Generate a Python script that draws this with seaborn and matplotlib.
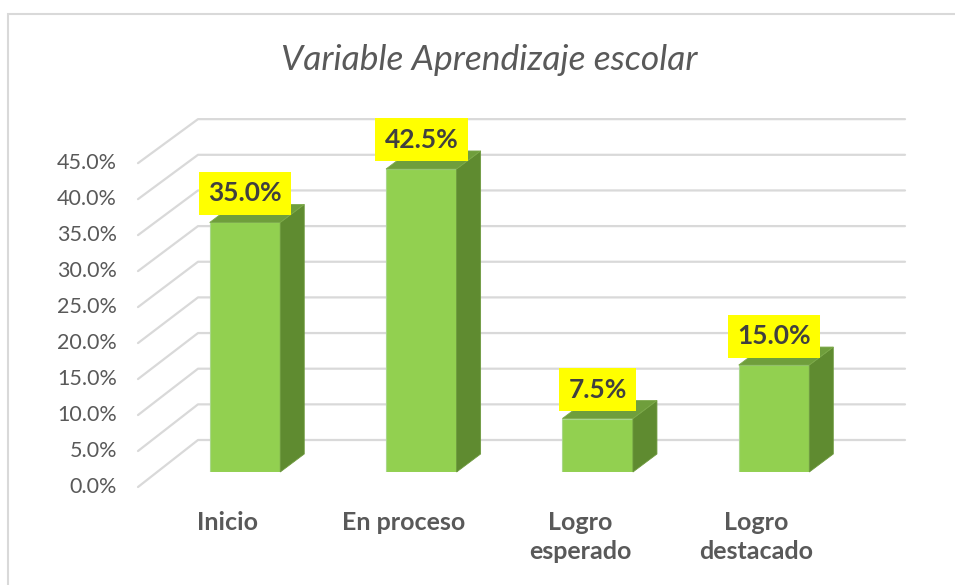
import matplotlib
matplotlib.use("Agg")
import matplotlib.pyplot as plt
import seaborn as sns
import pandas as pd
from matplotlib.patches import Polygon, Rectangle
from matplotlib.lines import Line2D
from matplotlib.transforms import IdentityTransform

# data
categorias = ["Inicio", "En proceso", "Logro\nesperado", "Logro\ndestacado"]
porcentajes = [35.0, 42.5, 7.5, 15.0]
ticks = [0, 5, 10, 15, 20, 25, 30, 35, 40, 45]
titulo = "Variable Aprendizaje escolar"

sns.set_theme(style="white")
plt.rcParams["font.family"] = ["Lato", "DejaVu Sans"]

W, H = 955, 585
fig = plt.figure(figsize=(W / 100, H / 100), dpi=100)
fig.patch.set_facecolor("white")

# front plane of the bars
ax = fig.add_axes([156.8 / W, 1 - 472 / H, 705.4 / W, 320.85 / H])
df = pd.DataFrame({"cat": categorias, "pct": porcentajes})
sns.barplot(data=df, x="cat", y="pct", color="#92D050", saturation=1,
            width=0.4, edgecolor="#A9D78A", linewidth=0.8, ax=ax, zorder=2)
ax.set_xlim(-0.5, 3.5)
ax.set_ylim(0, 45)
ax.set_xticks([])
ax.set_yticks([])
ax.set_xlabel("")
ax.set_ylabel("")
for s in ax.spines.values():
    s.set_visible(False)
ax.patch.set_alpha(0)

ident = IdentityTransform()
grid_c = "#D9D9D9"

# 3d-looking gridlines (left wall diagonal + back wall)
for v in ticks:
    yb = ax.transData.transform((0, v))[1]
    y_front = yb - (15 - 3 * v / 45)
    y_back = yb + 32
    ax.add_artist(Line2D([138, 198, 905], [y_front, y_back, y_back],
                         transform=ident, color=grid_c, lw=1.6,
                         clip_on=False, zorder=0.5))
    ax.text(117, y_front, f"{v:.1f}%", transform=ident, ha="right",
            va="center", fontsize=15.5, color="#595959")

# side and top faces of each bar
dx, dy = 24, 18
for p in ax.patches[:len(porcentajes)]:
    x0, y0 = ax.transData.transform((p.get_x(), p.get_y()))
    x1, y1 = ax.transData.transform((p.get_x() + p.get_width(),
                                     p.get_y() + p.get_height()))
    side = Polygon([(x1, y0), (x1, y1), (x1 + dx, y1 + dy), (x1 + dx, y0 + dy)],
                   closed=True, transform=ident, facecolor="#5F8B30",
                   edgecolor="#6E9A3E", lw=0.6, clip_on=False, zorder=2)
    top = Polygon([(x0, y1), (x1, y1), (x1 + dx, y1 + dy), (x0 + dx, y1 + dy)],
                  closed=True, transform=ident, facecolor="#6F9E3C",
                  edgecolor="#7DAA4A", lw=0.6, clip_on=False, zorder=2)
    ax.add_artist(side)
    ax.add_artist(top)

# data labels
for i, v in enumerate(porcentajes):
    ax.annotate(f"{v:.1f}%", xy=(i, v), xytext=(0, 29),
                textcoords="offset pixels", ha="center", va="center",
                fontsize=19, fontweight="bold", color="#404040",
                bbox=dict(boxstyle="square,pad=0.36", fc="#FFFF00", ec="none"),
                annotation_clip=False, zorder=5)

# category labels along the front edge
ax2 = fig.add_axes([139.4 / W, 1 - 511 / H, 704.8 / W, 0.0001])
ax2.set_xlim(-0.5, 3.5)
ax2.set_xticks(range(len(categorias)))
ax2.set_xticklabels(categorias, fontweight="bold", linespacing=1.3)
ax2.tick_params(axis="x", length=0, pad=0, labelsize=18, labelcolor="#595959")
ax2.set_yticks([])
for s in ax2.spines.values():
    s.set_visible(False)
ax2.patch.set_alpha(0)

fig.text(489 / W, 1 - 60 / H, titulo, ha="center", va="center",
         fontsize=25.5, style="italic", color="#595959")

fig.add_artist(Rectangle((8 / W, -0.1), 1.2, 1 - 14 / H + 0.1,
                         transform=fig.transFigure, fill=False,
                         edgecolor=grid_c, lw=1.5))

fig.savefig("out.png", dpi=100)
